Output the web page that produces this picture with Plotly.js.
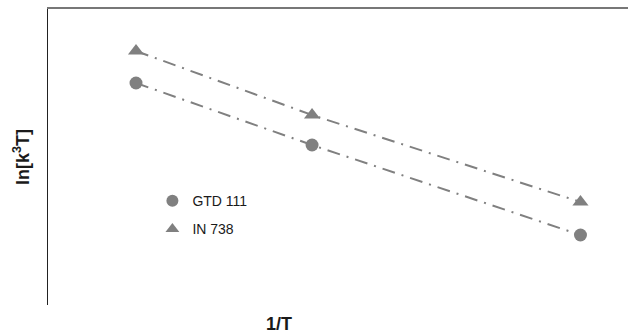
<!DOCTYPE html>
<html>
<head>
<meta charset="utf-8">
<script src="https://cdn.plot.ly/plotly-3.0.1.min.js"></script>
<style>html,body{margin:0;padding:0;background:#fff;}#chart{width:628px;height:334px;}</style>
</head>
<body>
<div id="chart"></div>
<script>
// Inverse temperature (arbitrary units, no ticks shown in reference)
const invT = [8.0, 8.4, 9.01];
const seriesNames = ["GTD 111", "IN 738"];
const gtd111 = [5.55, 4.0, 1.75];
const in738 = [6.35, 4.75, 2.575];
const xTitle = "1/T";
const yTitle = "ln[k<sup>3</sup>T]";

const gray = "#808080";
const font = "Liberation Sans, Arial, sans-serif";

function lineTrace(y) {
  return {x: invT, y: y, type: "scatter", mode: "lines", showlegend: false,
    hoverinfo: "skip",
    line: {color: gray, width: 2, dash: "13px,7px,2px,7px"}};
}
function markerTrace(y, name, symbol, size, group) {
  return {x: invT, y: y, type: "scatter", mode: "markers", name: name,
    legendgroup: group,
    marker: {color: gray, symbol: symbol, size: size, line: {width: 0}}};
}

const data = [
  lineTrace(gtd111),
  lineTrace(in738),
  markerTrace(gtd111, seriesNames[0], "circle", 13, "a"),
  markerTrace(in738, seriesNames[1], "triangle-up", 14, "b")
];

const layout = {
  width: 628, height: 334,
  margin: {l: 48, r: 0, t: 9, b: 29, pad: 0},
  paper_bgcolor: "#fff", plot_bgcolor: "#fff",
  font: {family: font, color: "#1a1a1a", size: 14},
  showlegend: true,
  legend: {x: 0.18, y: 0.405, xanchor: "left", yanchor: "top",
    bgcolor: "rgba(0,0,0,0)", font: {size: 14, color: "#1a1a1a"},
    traceorder: "grouped", tracegroupgap: 7, itemsizing: "constant"},
  xaxis: {range: [7.8, 9.118], side: "top", showline: true, linecolor: "#777",
    linewidth: 2, showticklabels: false, ticks: "", showgrid: false, zeroline: false},
  yaxis: {range: [0, 7.4], showline: true, linecolor: "#222", linewidth: 1.5,
    showticklabels: false, ticks: "", showgrid: false, zeroline: false,
    title: {text: yTitle, standoff: 12, font: {size: 18, weight: "bold", color: "#1a1a1a"}}},
  annotations: [{text: xTitle, xref: "paper", yref: "paper",
    x: (279 - 48) / 580, y: 0, xanchor: "center", yanchor: "top", yshift: -7,
    showarrow: false, font: {size: 18, weight: "bold", color: "#1a1a1a"}}]
};

Plotly.newPlot("chart", data, layout, {displayModeBar: false, staticPlot: true});
</script>
</body>
</html>
